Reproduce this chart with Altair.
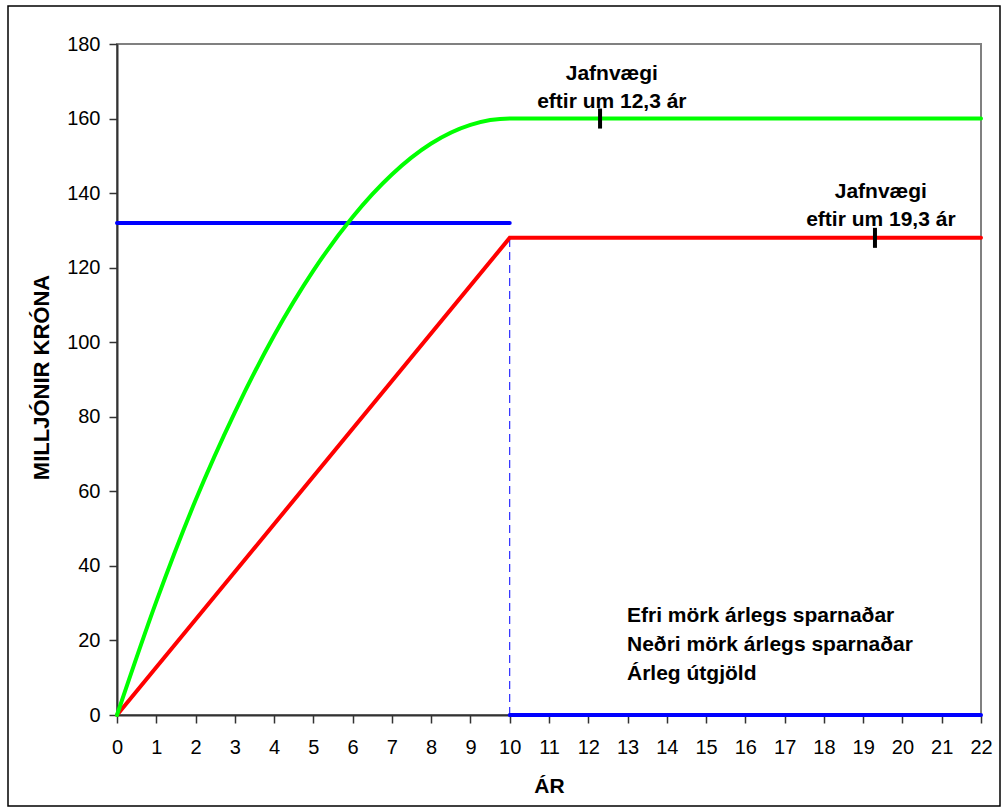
import altair as alt
import pandas as pd

# ---- data ----
series_names = ["Efri mörk árlegs sparnaðar", "Neðri mörk árlegs sparnaðar", "Árleg útgjöld"]
series_colors = ["#00ff00", "#ff0000", "#0000ff"]

green_x = [0, 1, 2, 3, 4, 5, 6, 7, 8, 9, 10, 22]
green_y = [0, 30.4, 57.6, 81.2, 101.8, 119.2, 133.6, 145.0, 153.3, 158.3, 160, 160]

red_x = [0, 10, 22]
red_y = [0, 128, 128]

blue_x = [0, 10, 10, 22]
blue_y = [132, 132, 0, 0]
blue_seg = [1, 1, 2, 2]

drop_x = [10]
drop_y = [0]
drop_y2 = [128]

eq_x = [12.3, 19.3]
eq_y = [160, 128]

note_x = [12.6, 19.45]
note_y = [170.3, 138.7]
note_text = ["Jafnvægi\neftir um 12,3 ár", "Jafnvægi\neftir um 19,3 ár"]

x_ticks = list(range(0, 23))
y_ticks = list(range(0, 181, 20))

FONT = "Liberation Sans"

green_df = pd.DataFrame({"x": green_x, "y": green_y, "series": series_names[0], "seg": 0})
red_df = pd.DataFrame({"x": red_x, "y": red_y, "series": series_names[1], "seg": 0})
blue_df = pd.DataFrame({"x": blue_x, "y": blue_y, "series": series_names[2], "seg": blue_seg})
rb_df = pd.concat([red_df, blue_df], ignore_index=True)
drop_df = pd.DataFrame({"x": drop_x, "y": drop_y, "y2": drop_y2})
eq_df = pd.DataFrame({"x": eq_x, "y": eq_y})
note_df = pd.DataFrame({"x": note_x, "y": note_y, "text": note_text})

x_scale = alt.Scale(domain=[0, 22], nice=False, zero=False)
y_scale = alt.Scale(domain=[0, 180], nice=False)

x_axis = alt.Axis(
    title="ÁR", values=x_ticks, grid=False, tickSize=8, labelPadding=14,
    labelFontSize=20, labelFont=FONT, labelColor="black",
    titleFont=FONT, titleFontSize=21, titleFontWeight="bold", titleColor="black",
    titleX=432, titleY=77, titleBaseline="alphabetic",
    domainColor="#333333", domainWidth=2, tickColor="#333333", tickWidth=1.5,
    labelFlush=False, labelOverlap=False,
)
y_axis = alt.Axis(
    title="MILLJÓNIR KRÓNA", values=y_ticks, grid=False, tickSize=8, labelPadding=9,
    labelFontSize=20, labelFont=FONT, labelColor="black",
    titleFont=FONT, titleFontSize=22, titleFontWeight="bold", titleColor="black",
    titleX=-69, titleY=333, titleBaseline="alphabetic", titleAngle=270,
    domainColor="#333333", domainWidth=2, tickColor="#333333", tickWidth=1.5,
    labelFlush=False, labelOverlap=False,
)

color_scale = alt.Scale(domain=series_names, range=series_colors)
legend = alt.Legend(
    orient="none", legendX=489, legendY=561, title=None,
    symbolSize=0, symbolOpacity=0, symbolStrokeWidth=0, labelOffset=0,
    labelFontSize=21, labelFontWeight="bold", labelFont=FONT, labelColor="black",
    labelLimit=500, rowPadding=7, padding=0,
)

frame = alt.Chart(alt.Data(values=[{}])).mark_rect(
    fill=None, stroke="black", strokeWidth=1.5
).encode(
    x=alt.value(-109), x2=alt.value(883), y=alt.value(-38), y2=alt.value(762)
)

drop = alt.Chart(drop_df).mark_rule(color="#0000ff", strokeWidth=1, strokeDash=[8, 5]).encode(
    x=alt.X("x:Q", scale=x_scale, axis=x_axis),
    y=alt.Y("y:Q", scale=y_scale, axis=y_axis),
    y2="y2:Q",
)

rb = alt.Chart(rb_df).mark_line(strokeWidth=4, strokeCap="round").encode(
    x=alt.X("x:Q", scale=x_scale, axis=x_axis),
    y=alt.Y("y:Q", scale=y_scale, axis=y_axis),
    color=alt.Color("series:N", scale=color_scale, legend=legend, sort=series_names),
    detail="seg:N",
    order="x:Q",
)

green = alt.Chart(green_df).mark_line(strokeWidth=4, strokeCap="round", interpolate="monotone").encode(
    x=alt.X("x:Q", scale=x_scale, axis=x_axis),
    y=alt.Y("y:Q", scale=y_scale, axis=y_axis),
    color=alt.Color("series:N", scale=color_scale, legend=legend, sort=series_names),
)

eq = alt.Chart(eq_df).mark_tick(
    orient="vertical", size=20, thickness=4, color="black", opacity=1, strokeWidth=0
).encode(
    x=alt.X("x:Q", scale=x_scale, axis=x_axis),
    y=alt.Y("y:Q", scale=y_scale, axis=y_axis),
)

notes = alt.Chart(note_df).mark_text(
    font=FONT, fontSize=21, fontWeight="bold", color="black", align="center",
    baseline="alphabetic", lineBreak="\n", lineHeight=28,
).encode(
    x=alt.X("x:Q", scale=x_scale, axis=x_axis),
    y=alt.Y("y:Q", scale=y_scale, axis=y_axis),
    text="text:N",
)

chart = alt.layer(frame, drop, rb, green, eq, notes).properties(
    width=864, height=671,
    autosize=alt.AutoSizeParams(type="none"),
    padding={"left": 117, "top": 44, "right": 27, "bottom": 97},
    background="white",
).configure_view(stroke="#808080", strokeWidth=2)

chart.save("out.html", embed_options={"renderer": "svg", "actions": False})
